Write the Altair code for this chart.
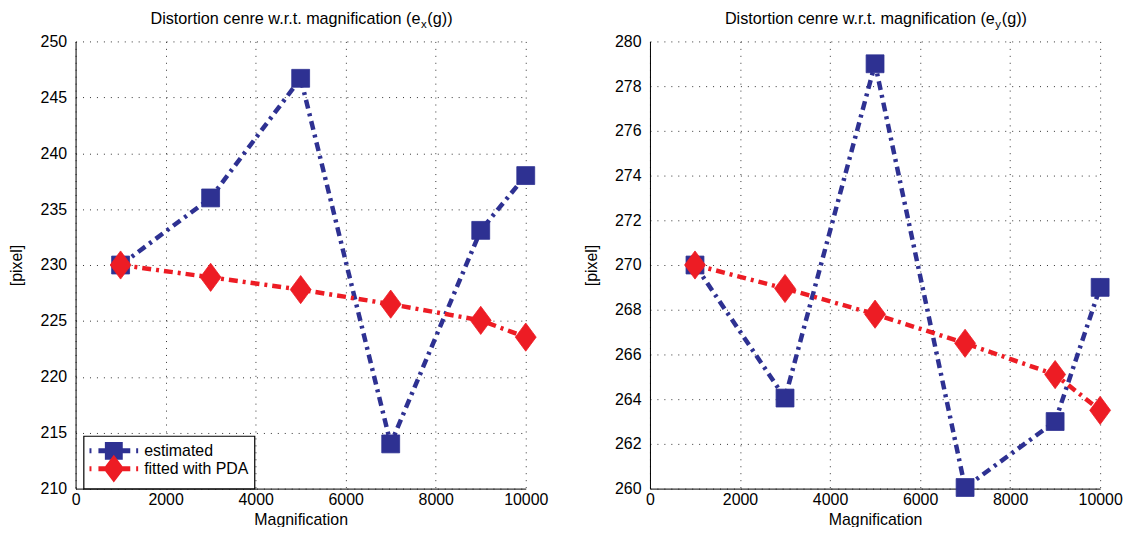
import altair as alt
import pandas as pd

# ---------------- data ----------------
magnification = [1000, 3000, 5000, 7000, 9000, 10000]
ex_estimated = [230.0, 236.0, 246.7, 214.0, 233.1, 238.0]
ex_fitted = [230.0, 228.9, 227.8, 226.5, 225.05, 223.55]
ey_estimated = [270.0, 264.05, 279.0, 260.05, 263.0, 269.0]
ey_fitted = [270.0, 268.95, 267.8, 266.5, 265.1, 263.5]
series_names = ["estimated", "fitted with PDA"]
x_ticks = [0, 2000, 4000, 6000, 8000, 10000]
ex_ticks = [210, 215, 220, 225, 230, 235, 240, 245, 250]
ey_ticks = [260, 262, 264, 266, 268, 270, 272, 274, 276, 278, 280]
title_main = "Distortion cenre w.r.t. magnification (e"
title_subs = ["x", "y"]
title_tail = "(g))"
x_title = "Magnification"
y_title = "[pixel]"

BLUE = "#2E3192"
RED = "#ED1C24"
FONT = "Liberation Sans"
DASH = [9, 5, 3, 5]

DIAMOND = "M0,-1.35L1,0L0,1.35L-1,0Z"
# legend glyphs (unit = 9 px, origin 9 px right of the glyph's left end)
LEG_LINE = ("M-1,-0.28L-0.78,-0.28L-0.78,0.28L-1,0.28Z "
            "M0,-0.28L3.56,-0.28L3.56,0.28L0,0.28Z "
            "M4.22,-0.28L4.44,-0.28L4.44,0.28L4.22,0.28Z ")
LEG_SQUARE = LEG_LINE + "M0.72,-1L2.72,-1L2.72,1L0.72,1Z"
LEG_DIAMOND = LEG_LINE + "M1.72,-1.55L2.89,0L1.72,1.55L0.55,0Z"

W, H = 453, 450


def panel(est, fit, ydom, yticks, sub):
    df = pd.DataFrame({
        "mag": magnification + magnification,
        "val": est + fit,
        "series": [series_names[0]] * len(est) + [series_names[1]] * len(fit),
    })
    x = alt.X("mag:Q", scale=alt.Scale(domain=[0, 10000], nice=False),
              axis=alt.Axis(values=x_ticks, title=x_title, labelPadding=3,
                            titlePadding=4, format="d", labelFlush=False))
    y = alt.Y("val:Q", scale=alt.Scale(domain=ydom, nice=False, zero=False),
              axis=alt.Axis(values=yticks, title=y_title, labelPadding=9,
                            titlePadding=15.5, labelFlush=False))
    cscale = alt.Scale(domain=series_names, range=[BLUE, RED])
    base = alt.Chart(df)
    layers = []
    for name, col, shape, size in [(series_names[0], BLUE, "square", 324),
                                   (series_names[1], RED, DIAMOND, 441)]:
        d = base.transform_filter(alt.datum.series == name)
        layers.append(
            d.mark_line(strokeWidth=4.5, strokeDash=DASH, clip=False, color=col)
            .encode(x=x, y=y))
        layers.append(
            d.mark_point(filled=True, shape=shape, size=size, opacity=1,
                         color=col, clip=False, strokeWidth=0.8, stroke=col)
            .encode(x=x, y=y))
    legend_layer = base.transform_filter(alt.datum.mag == 1000).mark_point(
        filled=True, opacity=0, size=10).encode(
        x=x, y=y,
        color=alt.Color("series:N", scale=cscale,
                        legend=alt.Legend(title=None)),
        shape=alt.Shape("series:N",
                        scale=alt.Scale(domain=series_names,
                                        range=[LEG_SQUARE, LEG_DIAMOND]),
                        legend=alt.Legend(title=None)),
    )
    layers.append(legend_layer)

    tdf = pd.DataFrame({"main": [title_main], "sub": [sub], "tail": [title_tail]})
    tb = alt.Chart(tdf)
    t1 = tb.mark_text(align="right", baseline="middle", fontSize=16.3, font=FONT,
                      color="black").encode(text="main:N", x=alt.value(347),
                                            y=alt.value(-23))
    t2 = tb.mark_text(align="left", baseline="middle", fontSize=11.5, font=FONT,
                      color="black").encode(text="sub:N", x=alt.value(347.5),
                                            y=alt.value(-17))
    t3 = tb.mark_text(align="left", baseline="middle", fontSize=16.3, font=FONT,
                      color="black").encode(text="tail:N", x=alt.value(354),
                                            y=alt.value(-23))
    return alt.layer(*layers, t1, t2, t3).properties(width=W, height=H)


left = panel(ex_estimated, ex_fitted, [210, 250], ex_ticks, title_subs[0])
right = panel(ey_estimated, ey_fitted, [260, 280], ey_ticks, title_subs[1])

chart = alt.hconcat(left, right, spacing=34).properties(
    padding={"left": 0, "top": 1, "right": 0, "bottom": -2}
).configure_view(
    stroke=None
).configure_axis(
    labelFont=FONT, titleFont=FONT, labelFontSize=16, titleFontSize=16,
    labelColor="black", titleColor="black", titleFontWeight="normal",
    domainColor="black", domainWidth=1, ticks=False, tickSize=0,
    grid=True, gridColor="#333333", gridDash=[1, 6], gridWidth=1,
    gridOpacity=1,
).configure_legend(
    orient="none", legendX=8, legendY=397, padding=6, strokeColor="black",
    fillColor="white", strokeWidth=1.2, cornerRadius=0,
    labelFont=FONT, labelFontSize=16, labelColor="black", labelOffset=37,
    symbolSize=324, symbolStrokeWidth=0, symbolOpacity=1, rowPadding=-5,
)

chart.save("out.html", embed_options={"renderer": "svg", "actions": False})
